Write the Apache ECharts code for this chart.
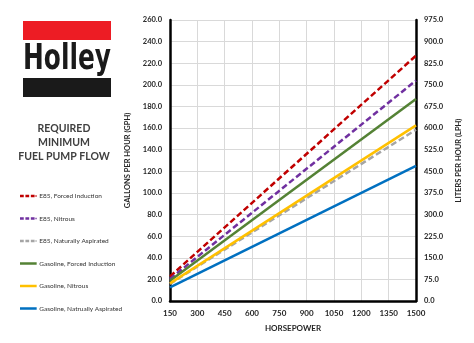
<!DOCTYPE html>
<html>
<head>
<meta charset="utf-8">
<script src="https://cdn.jsdelivr.net/npm/echarts@6/dist/echarts.min.js"></script>
<style>
html,body{margin:0;padding:0;background:#fff;}
#c{width:474px;height:343px;}
</style>
</head>
<body>
<div id="c"></div>
<script>
// Horsepower endpoints (straight lines)
const horsepower = [150, 1500];
const e85Forced = [22.7, 227.0];
const e85Nitrous = [20.4, 204.0];
const e85Natural = [15.9, 158.5];
const gasForced = [18.8, 187.0];
const gasNitrous = [16.3, 162.5];
const gasNatural = [12.5, 125.0];

const seriesNames = [
  'E85, Forced Induction',
  'E85, Nitrous',
  'E85, Naturally Aspirated',
  'Gasoline, Forced Induction',
  'Gasoline, Nitrous',
  'Gasoline, Natrually Aspirated'
];
const seriesValues = [e85Forced, e85Nitrous, e85Natural, gasForced, gasNitrous, gasNatural];
const seriesColors = ['#C00000', '#7030A0', '#A5A5A5', '#548235', '#FFC000', '#0070C0'];
const seriesDashed = [true, true, true, false, false, false];

const xTicks = {min: 150, max: 1500, interval: 150};
const gphTicks = {min: 0, max: 260, interval: 20};
const lphTicks = {min: 0, max: 975, interval: 75};

const FONT = 'Lato, "Open Sans", sans-serif';
const DASH_ICON = 'path://M0,0h4.5v3h-4.5z M6.5,0h4.5v3h-4.5z M13,0h4.5v3h-4.5z M18.5,0.5h1.5v2h-1.5z';
const SOLID_ICON = 'path://M0,0h20v3h-20z';

const chart = echarts.init(document.getElementById('c'), null, {renderer: 'canvas'});

const series = seriesNames.map((name, i) => ({
  name: name,
  type: 'line',
  yAxisIndex: 0,
  symbol: 'none',
  data: horsepower.map((h, j) => [h, seriesValues[i][j]]),
  lineStyle: {color: seriesColors[i], width: 2.5, type: seriesDashed[i] ? [6, 3] : 'solid'},
  itemStyle: {color: seriesColors[i]},
  animation: false,
  silent: true
}));

chart.setOption({
  animation: false,
  grid: {left: 170, right: 58, top: 20, bottom: 42, containLabel: false},
  legend: {
    orient: 'vertical',
    left: 15,
    top: 184,
    itemWidth: 20,
    itemHeight: 2.5,
    itemGap: 8.5,
    itemStyle: {borderWidth: 0},
    lineStyle: {width: 0},
    textStyle: {fontFamily: FONT, fontSize: 6.5, color: '#333333', lineHeight: 14, padding: [0,0,0,-4]},
    data: seriesNames.map((n, i) => ({name: n, icon: seriesDashed[i] ? DASH_ICON : SOLID_ICON}))
  },
  xAxis: {
    type: 'value',
    min: xTicks.min, max: xTicks.max, interval: xTicks.interval,
    name: 'HORSEPOWER',
    nameLocation: 'middle',
    nameGap: 23,
    nameTextStyle: {fontFamily: FONT, fontSize: 8, fontWeight: 'bold', color: '#262626'},
    axisLine: {show: true, onZero: false, lineStyle: {color: '#000', width: 2.5}},
    axisTick: {show: false},
    axisLabel: {fontFamily: FONT, fontSize: 8, fontWeight: 'bold', color: '#262626', margin: 8,
      formatter: v => String(v)},
    splitLine: {show: true, lineStyle: {color: '#d9d9d9', width: 1}}
  },
  yAxis: [
    {
      type: 'value',
      position: 'left',
      min: gphTicks.min, max: gphTicks.max, interval: gphTicks.interval,
      name: 'GALLONS PER HOUR (GPH)',
      nameLocation: 'middle',
      nameGap: 26,
      nameRotate: 90,
      nameTextStyle: {fontFamily: FONT, fontSize: 7.5, fontWeight: 'bold', color: '#262626'},
      axisLine: {show: true, lineStyle: {color: '#000', width: 2.5}},
      axisTick: {show: false},
      axisLabel: {fontFamily: FONT, fontSize: 7.5, fontWeight: 'bold', color: '#262626', margin: 8,
        formatter: v => v.toFixed(1)},
      splitLine: {show: true, lineStyle: {color: '#d9d9d9', width: 1}}
    },
    {
      type: 'value',
      position: 'right',
      min: lphTicks.min, max: lphTicks.max, interval: lphTicks.interval,
      name: 'LITERS PER HOUR (LPH)',
      nameLocation: 'middle',
      nameGap: 31,
      nameRotate: 90,
      nameTextStyle: {fontFamily: FONT, fontSize: 7.5, fontWeight: 'bold', color: '#262626'},
      axisLine: {show: true, lineStyle: {color: '#000', width: 2.5}},
      axisTick: {show: false},
      axisLabel: {fontFamily: FONT, fontSize: 7.5, fontWeight: 'bold', color: '#262626', margin: 8,
        formatter: v => v.toFixed(1)},
      splitLine: {show: false}
    }
  ],
  graphic: [
    {type: 'rect', left: 23, top: 21, shape: {width: 88, height: 19}, style: {fill: '#ED1C24'}},
    {type: 'rect', left: 23, top: 78, shape: {width: 88, height: 19}, style: {fill: '#1a1a1a'}},
    {type: 'text', x: 67, y: 60, scale: [0.69, 1], origin: [0, 0],
      style: {text: 'Holley', x: 0, y: 0, font: 'bold 36px "DejaVu Sans", sans-serif', fill: '#1a1a1a',
        align: 'center', verticalAlign: 'middle'}},
    {type: 'text', x: 64, y: 129, style: {text: 'REQUIRED', font: 'bold 10.5px ' + FONT, fill: '#404040', align: 'center', verticalAlign: 'middle'}},
    {type: 'text', x: 64, y: 143, style: {text: 'MINIMUM', font: 'bold 10.5px ' + FONT, fill: '#404040', align: 'center', verticalAlign: 'middle'}},
    {type: 'text', x: 64, y: 157, style: {text: 'FUEL PUMP FLOW', font: 'bold 10.5px ' + FONT, fill: '#404040', align: 'center', verticalAlign: 'middle'}}
  ],
  series: series
});
</script>
</body>
</html>
